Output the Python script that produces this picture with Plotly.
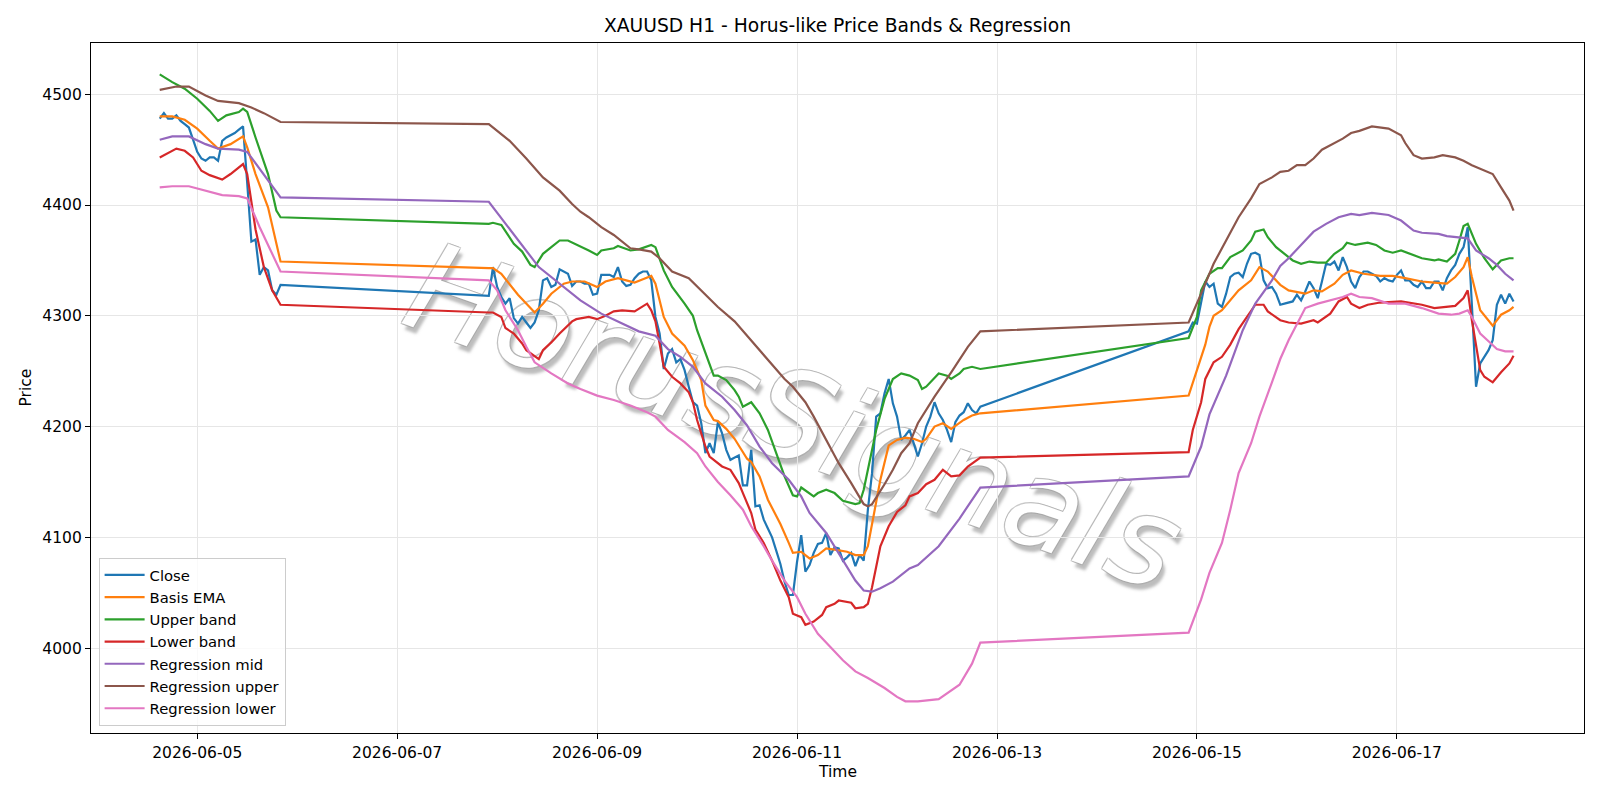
import pandas as pd
import plotly.graph_objects as go

BASE = pd.Timestamp("2026-06-05 00:00")

# ---- Close (hourly, three trading segments; hours counted from BASE) ----
close_start = [-9, 70, 238]
close_seg1 = [4478, 4483, 4478, 4478, 4481, 4476, 4473, 4470, 4459, 4448,
              4442, 4440, 4443, 4443, 4440, 4458, 4461, 4463, 4465, 4468,
              4471, 4420, 4367, 4369, 4337, 4344, 4341, 4323, 4319, 4328]
close_seg2 = [4318, 4344, 4326, 4317, 4311, 4316, 4298, 4293, 4299, 4294,
              4289, 4294, 4305, 4332, 4334, 4326, 4328, 4342, 4340, 4338,
              4327, 4331, 4331, 4329, 4329, 4319, 4320, 4337, 4337, 4337,
              4335, 4344, 4331, 4327, 4328, 4334, 4338, 4340, 4340, 4332,
              4299, 4284, 4252, 4266, 4270, 4258, 4261, 4251, 4236, 4222,
              4219, 4203, 4176, 4185, 4176, 4204, 4194, 4179, 4170, 4172,
              4174, 4147, 4147, 4179, 4128, 4129, 4116, 4108, 4100, 4088,
              4076, 4060, 4048, 4048, 4078, 4102, 4069, 4075, 4086, 4094,
              4095, 4104, 4084, 4091, 4090, 4079, 4082, 4086, 4074, 4084,
              4079, 4125, 4158, 4209, 4212, 4230, 4243, 4221, 4209, 4188,
              4192, 4197, 4185, 4173, 4185, 4200, 4209, 4222, 4212, 4206,
              4197, 4186, 4204, 4210, 4213, 4221, 4215, 4212, 4218]
close_seg3 = [4286, 4294, 4293, 4312, 4331, 4326, 4329, 4311, 4308, 4320,
              4335, 4338, 4339, 4335, 4347, 4356, 4357, 4355, 4332, 4325,
              4326, 4320, 4310, 4311, 4312, 4313, 4319, 4314, 4322, 4331,
              4325, 4316, 4331, 4347, 4346, 4349, 4341, 4353, 4344, 4331,
              4325, 4335, 4340, 4340, 4338, 4336, 4331, 4334, 4332, 4331,
              4337, 4341, 4332, 4332, 4328, 4326, 4331, 4325, 4325, 4331,
              4331, 4323, 4334, 4341, 4346, 4356, 4362, 4380, 4310, 4236,
              4257, 4263, 4269, 4278, 4310, 4319, 4311, 4320, 4313]

# ---- Smooth series: (hour from BASE, price) ----
ema_pts = [(-9, 4480), (-6, 4480), (-3, 4477), (0, 4469), (3, 4458), (5, 4451), (8, 4455),
           (11, 4462), (12, 4452), (14, 4428), (17, 4398), (20, 4349),
           (70, 4343), (71, 4343), (73, 4338), (75, 4329), (77, 4319), (80, 4307), (81, 4303),
           (83, 4311), (85, 4320), (88, 4329), (90, 4331), (93, 4331), (95, 4328), (96, 4326),
           (98, 4331), (101, 4334), (103, 4332), (105, 4330), (107, 4333), (109, 4336),
           (110, 4329), (112, 4299), (114, 4284), (117, 4273), (119, 4260), (121, 4242),
           (122, 4219), (124, 4206), (125, 4205), (127, 4198), (129, 4189), (132, 4171),
           (133, 4168), (135, 4155), (137, 4134), (140, 4112), (142, 4095), (143, 4086),
           (145, 4087), (147, 4081), (149, 4084), (151, 4090), (153, 4089), (156, 4087),
           (158, 4084), (160, 4084), (161, 4092), (162, 4112), (163, 4130), (164, 4152),
           (166, 4183), (168, 4188), (170, 4190), (172, 4189), (174, 4186), (175, 4189),
           (177, 4200), (179, 4203), (181, 4198), (184, 4206), (186, 4210), (188, 4212),
           (238, 4228), (240, 4251), (242, 4274), (243, 4290), (244, 4300), (246, 4305),
           (248, 4314), (250, 4323), (253, 4332), (255, 4344), (257, 4340), (260, 4328),
           (262, 4323), (266, 4320), (268, 4323), (270, 4322), (273, 4329), (275, 4337),
           (277, 4341), (280, 4338), (284, 4336), (287, 4336), (290, 4334), (294, 4331),
           (297, 4330), (300, 4329), (302, 4335), (304, 4344), (305, 4353), (306, 4335),
           (308, 4305), (310, 4296), (311, 4291), (313, 4301), (315, 4305), (316, 4308)]

upper_pts = [(-9, 4518), (-6, 4511), (-3, 4505), (0, 4496), (3, 4485), (5, 4476), (7, 4481),
             (10, 4484), (11, 4487), (12, 4484), (14, 4461), (17, 4428), (19, 4395), (20, 4389),
             (70, 4383), (71, 4384), (73, 4382), (76, 4365), (78, 4358), (80, 4346), (81, 4344),
             (83, 4356), (85, 4362), (87, 4368), (89, 4368), (92, 4363), (94, 4359), (96, 4355),
             (97, 4359), (100, 4361), (101, 4363), (104, 4359), (106, 4360), (109, 4364),
             (110, 4362), (112, 4341), (114, 4326), (117, 4311), (119, 4300), (120, 4287),
             (122, 4266), (124, 4246), (125, 4246), (127, 4242), (129, 4233), (130, 4227),
             (131, 4218), (133, 4222), (135, 4212), (137, 4197), (139, 4176), (141, 4155),
             (143, 4138), (144, 4137), (145, 4145), (148, 4137), (149, 4140), (151, 4143),
             (153, 4140), (155, 4133), (158, 4130), (159, 4131), (160, 4143), (161, 4160),
             (163, 4197), (165, 4225), (167, 4243), (169, 4248), (171, 4246), (173, 4242),
             (174, 4234), (175, 4236), (177, 4244), (178, 4248), (180, 4246), (181, 4243),
             (183, 4248), (184, 4252), (186, 4254), (188, 4252),
             (238, 4280), (240, 4299), (241, 4323), (243, 4338), (245, 4343), (246, 4343),
             (248, 4353), (251, 4359), (253, 4368), (254, 4376), (256, 4378), (257, 4371),
             (259, 4362), (261, 4356), (263, 4350), (265, 4347), (267, 4349), (269, 4348),
             (271, 4348), (273, 4356), (275, 4361), (276, 4366), (278, 4364), (281, 4366),
             (283, 4364), (285, 4359), (287, 4357), (289, 4359), (291, 4356), (294, 4352),
             (297, 4350), (298, 4351), (300, 4349), (302, 4356), (303, 4368), (304, 4381),
             (305, 4383), (307, 4365), (309, 4352), (311, 4342), (313, 4350), (315, 4352),
             (316, 4352)]

lower_pts = [(-9, 4443), (-7, 4447), (-5, 4451), (-3, 4449), (-1, 4443), (1, 4431), (3, 4427),
             (6, 4423), (8, 4428), (11, 4437), (12, 4428), (14, 4378), (16, 4344), (18, 4323),
             (20, 4310),
             (70, 4303), (71, 4303), (73, 4299), (74, 4289), (76, 4284), (78, 4275), (79, 4269),
             (82, 4261), (83, 4269), (85, 4276), (87, 4284), (90, 4295), (91, 4297), (94, 4299),
             (96, 4297), (98, 4300), (100, 4304), (102, 4305), (105, 4304), (108, 4311),
             (109, 4305), (110, 4295), (111, 4275), (112, 4254), (114, 4245), (116, 4239),
             (118, 4231), (119, 4222), (120, 4206), (122, 4182), (123, 4173), (126, 4164),
             (128, 4161), (130, 4149), (131, 4140), (133, 4122), (134, 4107), (136, 4095),
             (138, 4079), (140, 4061), (142, 4046), (143, 4031), (145, 4028), (146, 4021),
             (148, 4024), (150, 4030), (151, 4037), (153, 4040), (154, 4043), (157, 4041),
             (158, 4036), (160, 4037), (161, 4040), (162, 4055), (164, 4092), (166, 4110),
             (168, 4123), (170, 4129), (171, 4137), (173, 4140), (175, 4148), (177, 4152),
             (179, 4161), (181, 4155), (183, 4156), (185, 4164), (188, 4172),
             (238, 4177), (239, 4197), (241, 4222), (242, 4243), (244, 4258), (246, 4263),
             (248, 4274), (250, 4288), (252, 4299), (254, 4310), (256, 4310), (257, 4304),
             (260, 4296), (262, 4294), (265, 4293), (268, 4296), (269, 4294), (272, 4302),
             (274, 4313), (276, 4317), (277, 4311), (279, 4307), (281, 4310), (284, 4312),
             (289, 4313), (291, 4312), (294, 4310), (297, 4307), (300, 4308), (302, 4309),
             (304, 4316), (305, 4323), (306, 4296), (308, 4251), (309, 4245), (311, 4240),
             (313, 4249), (315, 4257), (316, 4264)]

reg_mid_pts = [(-9, 4459), (-6, 4462), (-2, 4462), (2, 4455), (5, 4451), (10, 4450), (12, 4448),
               (16, 4428), (20, 4407),
               (70, 4403), (82, 4344), (92, 4314), (97, 4302), (106, 4286), (108, 4284),
               (110, 4282), (113, 4270), (116, 4263), (119, 4254), (122, 4239), (126, 4227),
               (129, 4215), (132, 4201), (135, 4182), (138, 4167), (142, 4152), (145, 4137),
               (147, 4122), (151, 4104), (155, 4079), (158, 4061), (160, 4052), (162, 4051),
               (164, 4054), (167, 4060), (171, 4072), (173, 4075), (178, 4092), (183, 4117),
               (188, 4145),
               (238, 4155), (241, 4182), (243, 4211), (247, 4246), (251, 4287), (254, 4311),
               (258, 4332), (260, 4345), (262, 4352), (266, 4368), (268, 4376), (271, 4383),
               (274, 4389), (277, 4392), (279, 4391), (282, 4393), (286, 4391), (289, 4386),
               (292, 4377), (294, 4375), (298, 4374), (300, 4372), (303, 4371), (305, 4370),
               (307, 4359), (310, 4352), (312, 4346), (314, 4338), (316, 4332)]

reg_up_pts = [(-9, 4504), (-5, 4507), (-2, 4507), (2, 4499), (5, 4494), (10, 4492), (13, 4488),
              (16, 4483), (20, 4475),
              (70, 4473), (75, 4458), (79, 4442), (83, 4425), (87, 4413), (90, 4401), (92, 4394),
              (94, 4389), (97, 4380), (100, 4373), (102, 4367), (104, 4361), (106, 4360),
              (109, 4358), (111, 4352), (114, 4340), (118, 4334), (121, 4323), (125, 4308),
              (129, 4295), (133, 4278), (137, 4260), (141, 4243), (143, 4236), (146, 4222),
              (148, 4209), (151, 4188), (154, 4167), (157, 4149), (160, 4130), (161, 4128),
              (162, 4130), (165, 4148), (167, 4161), (169, 4176), (171, 4185), (173, 4203),
              (177, 4227), (181, 4249), (185, 4272), (188, 4286),
              (238, 4294), (241, 4320), (244, 4347), (247, 4368), (250, 4389), (253, 4406),
              (255, 4419), (258, 4425), (260, 4430), (262, 4431), (264, 4436), (266, 4436),
              (268, 4442), (270, 4450), (273, 4456), (275, 4460), (277, 4465), (279, 4467),
              (282, 4471), (286, 4469), (289, 4463), (290, 4456), (292, 4445), (294, 4442),
              (297, 4443), (299, 4445), (302, 4443), (304, 4440), (306, 4436), (309, 4431),
              (311, 4428), (313, 4416), (315, 4404), (316, 4395)]

reg_lo_pts = [(-9, 4416), (-6, 4417), (-2, 4417), (2, 4413), (6, 4409), (10, 4408), (12, 4406),
              (15, 4380), (20, 4340),
              (70, 4332), (72, 4323), (74, 4305), (77, 4287), (79, 4272), (81, 4258), (85, 4248),
              (89, 4239), (92, 4234), (96, 4228), (100, 4224), (104, 4219), (108, 4213),
              (110, 4209), (113, 4197), (117, 4186), (120, 4176), (122, 4164), (125, 4150),
              (128, 4138), (131, 4125), (133, 4110), (136, 4092), (138, 4079), (141, 4061),
              (144, 4046), (146, 4031), (149, 4013), (152, 4001), (155, 3989), (158, 3979),
              (161, 3973), (165, 3964), (168, 3956), (170, 3952), (173, 3952), (178, 3954),
              (183, 3967), (186, 3986), (188, 4005),
              (238, 4014), (241, 4044), (243, 4068), (246, 4095), (248, 4125), (250, 4158),
              (253, 4185), (255, 4209), (258, 4240), (260, 4261), (262, 4278), (264, 4293),
              (266, 4307), (269, 4311), (272, 4314), (275, 4317), (277, 4320), (279, 4317),
              (282, 4316), (286, 4311), (290, 4311), (294, 4307), (298, 4302), (301, 4301),
              (303, 4302), (305, 4305), (306, 4299), (308, 4284), (310, 4277), (312, 4270),
              (314, 4268), (316, 4268)]

x_ticks = ["2026-06-05", "2026-06-07", "2026-06-09", "2026-06-11",
           "2026-06-13", "2026-06-15", "2026-06-17"]
y_ticks = [4000, 4100, 4200, 4300, 4400, 4500]


def to_time(hours):
    return [BASE + pd.Timedelta(hours=h) for h in hours]


close_h, close_v = [], []
for start, seg in zip(close_start, [close_seg1, close_seg2, close_seg3]):
    close_h += [start + i for i in range(len(seg))]
    close_v += seg

series = [
    ("Close", close_h, close_v, "#1f77b4"),
    ("Basis EMA", *zip(*ema_pts), "#ff7f0e"),
    ("Upper band", *zip(*upper_pts), "#2ca02c"),
    ("Lower band", *zip(*lower_pts), "#d62728"),
    ("Regression mid", *zip(*reg_mid_pts), "#9467bd"),
    ("Regression upper", *zip(*reg_up_pts), "#8c564b"),
    ("Regression lower", *zip(*reg_lo_pts), "#e377c2"),
]

FONT = "DejaVu Sans"
fig = go.Figure()
for name, hs, vs, color in series:
    fig.add_trace(go.Scatter(x=to_time(hs), y=list(vs), mode="lines", name=name,
                             line=dict(color=color, width=2.2)))

axis_common = dict(showline=True, mirror=True, linecolor="black", linewidth=1.2,
                   ticks="outside", ticklen=5, tickwidth=1.2, tickcolor="black",
                   showgrid=True, gridcolor="#e6e6e6", gridwidth=1.2, zeroline=False,
                   tickfont=dict(family=FONT, size=15.5, color="black"))

wm_cx, wm_cy = (797 - 91) / 1493, (733 - 408) / 690
outline = "rgba(165,165,165,0.6)"

fig.update_layout(
    width=1600, height=800,
    paper_bgcolor="white", plot_bgcolor="white",
    margin=dict(l=91, r=16, t=43, b=67),
    font=dict(family=FONT, color="black"),
    title=dict(text="XAUUSD H1 - Horus-like Price Bands & Regression",
               x=0.5, xref="paper", xanchor="center",
               y=1 - 25.5 / 800, yref="container", yanchor="middle",
               font=dict(family=FONT, size=18.7, color="black")),
    xaxis=dict(type="date", range=["2026-06-03 22:30", "2026-06-18 20:55"],
               tickvals=x_ticks, ticktext=x_ticks, **axis_common),
    yaxis=dict(range=[3923.4, 4546.3], tickvals=y_ticks,
               ticktext=[str(v) for v in y_ticks], **axis_common),
    showlegend=True,
    legend=dict(x=0.0051, y=0.0106, xanchor="left", yanchor="bottom",
                bgcolor="rgba(255,255,255,0.8)", bordercolor="#cccccc", borderwidth=1,
                font=dict(family=FONT, size=14.8, color="black"),
                itemwidth=40, tracegroupgap=0),
    shapes=[
        dict(type="rect", xref="paper", yref="paper", layer="below",
             x0=wm_cx - 0.3, x1=wm_cx + 0.3, y0=wm_cy - 0.3, y1=wm_cy + 0.3,
             line=dict(width=0), fillcolor="rgba(0,0,0,0)",
             label=dict(text="HorusSignals", textangle=19.5, textposition="middle center",
                        font=dict(family=FONT, size=124, style="italic", color="white",
                                  shadow=(f"-1px -1px 0 {outline}, 1px -1px 0 {outline}, "
                                          f"-1px 1px 0 {outline}, 1px 1px 0 {outline}, "
                                          "5px 5px 3px rgba(135,135,135,0.55)")))),
    ],
    annotations=[
        dict(text="Time", x=0.5, xref="paper", y=(733 - 771.5) / 690, yref="paper",
             showarrow=False, xanchor="center", yanchor="middle",
             font=dict(family=FONT, size=15.5, color="black")),
        dict(text="Price", x=(25.5 - 91) / 1493, xref="paper", y=0.5, yref="paper",
             showarrow=False, xanchor="center", yanchor="middle", textangle=-90,
             font=dict(family=FONT, size=15.5, color="black")),
    ],
)

fig.write_html("out.html")
